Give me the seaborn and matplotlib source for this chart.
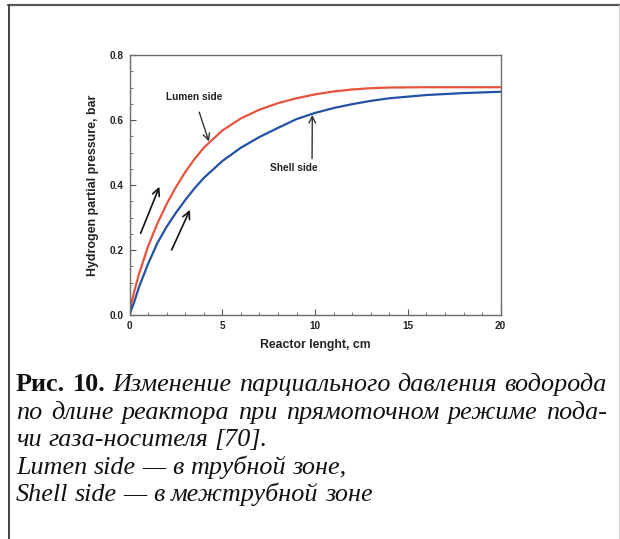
import matplotlib
matplotlib.use("Agg")
import matplotlib.pyplot as plt
from matplotlib.lines import Line2D
from matplotlib.ticker import MultipleLocator
import seaborn as sns
import pandas as pd

# Reactor position, cm
length_cm = [0.0, 0.1, 0.25, 0.5, 1.0, 1.5, 2.0, 2.5, 3.0, 3.5, 4.0, 5.0, 6.0,
             7.0, 8.0, 9.0, 10.0, 11.0, 12.0, 13.0, 14.0, 16.0, 18.0, 20.0]
# Hydrogen partial pressure, bar
lumen_side = [0.000, 0.036, 0.072, 0.125, 0.212, 0.282, 0.342, 0.394, 0.440, 0.480,
              0.515, 0.568, 0.605, 0.632, 0.652, 0.667, 0.679, 0.688, 0.694, 0.698,
              0.700, 0.701, 0.701, 0.701]
shell_side = [0.000, 0.018, 0.040, 0.085, 0.158, 0.222, 0.272, 0.315, 0.354, 0.390,
              0.422, 0.474, 0.515, 0.548, 0.576, 0.603, 0.622, 0.637, 0.649, 0.659,
              0.667, 0.677, 0.683, 0.687]
series_names = ["Lumen side", "Shell side"]
series_colors = ["#E9533E", "#2352A6"]

x_ticks = [0, 5, 10, 15, 20]
y_ticks = [0.0, 0.2, 0.4, 0.6, 0.8]

caption_head = "Рис. 10."
caption_lines = [
    "Изменение парциального давления водорода",
    "по длине реактора при прямоточном режиме пода-",
    "чи газа-носителя [70].",
    "Lumen side — в трубной зоне,",
    "Shell side — в межтрубной зоне",
]

df = pd.concat([
    pd.DataFrame({"x": length_cm, "p": lumen_side, "side": series_names[0]}),
    pd.DataFrame({"x": length_cm, "p": shell_side, "side": series_names[1]}),
])

sns.set_style("ticks")
plt.rcParams["font.family"] = ["Liberation Sans", "DejaVu Sans"]

W, H = 620, 539
fig = plt.figure(figsize=(W / 100, H / 100), dpi=100)
fig.patch.set_facecolor("white")

ax = fig.add_axes([129.5 / W, 1 - 315.3 / H, 371.2 / W, 260.3 / H])
sns.lineplot(data=df, x="x", y="p", hue="side", palette=series_colors,
             linewidth=1.6, legend=False, ax=ax, sort=False, estimator=None)

ax.set_xlim(0, 20)
ax.set_ylim(0, 0.8)
ax.set_xticks(x_ticks)
ax.set_yticks(y_ticks)
ax.set_xticklabels([str(t) for t in x_ticks])
ax.set_yticklabels([f"{t:.1f}" for t in y_ticks])
ax.xaxis.set_minor_locator(MultipleLocator(1))
ax.yaxis.set_minor_locator(MultipleLocator(0.05))
ax.tick_params(which="both", direction="in", colors="#555555", labelcolor="#222222",
               top=False, right=False)
ax.tick_params(which="major", length=4, width=0.8, labelsize=7.2, pad=4)
ax.tick_params(which="minor", length=2.5, width=0.6)
for lab in ax.get_xticklabels() + ax.get_yticklabels():
    lab.set_fontweight("bold")
for s in ax.spines.values():
    s.set_color("#6b6b6b")
    s.set_linewidth(1.0)
    s.set_visible(True)

ax.set_xlabel("Reactor lenght, cm", fontsize=8.8, fontweight="bold", color="#222222", labelpad=6)
ax.set_ylabel("Hydrogen partial pressure, bar", fontsize=8.9, fontweight="bold",
              color="#222222", labelpad=8)

arrow_kw = dict(arrowstyle="->", color="#333333", lw=1.0, mutation_scale=12)
ax.annotate("Lumen side", xy=(4.28, 0.534), xytext=(3.49, 0.670), ha="center", va="center",
            fontsize=7.3, fontweight="bold", color="#222222",
            arrowprops=dict(arrow_kw, shrinkA=5, shrinkB=0))
ax.annotate("Shell side", xy=(9.85, 0.616), xytext=(8.86, 0.452), ha="center", va="center",
            fontsize=7.3, fontweight="bold", color="#222222",
            arrowprops=dict(arrow_kw, shrinkA=1, shrinkB=0, relpos=(0.88, 1.0)))
for start, end in [((0.60, 0.252), (1.61, 0.395)), ((2.27, 0.201), (3.26, 0.324))]:
    ax.annotate("", xy=end, xytext=start,
                arrowprops=dict(arrowstyle="->", color="#111111", lw=1.2,
                                mutation_scale=13, shrinkA=0, shrinkB=0))

# outer frame
def px_line(x0, y0, x1, y1, **kw):
    fig.add_artist(Line2D([x0 / W, x1 / W], [1 - y0 / H, 1 - y1 / H],
                          transform=fig.transFigure, **kw))

px_line(8, 5, 620, 5, color="#555555", lw=1.6)
px_line(9, 5, 9, 539, color="#444444", lw=1.4)
px_line(618.5, 5, 618.5, 539, color="#d0d0d0", lw=0.8)

# caption, set as a justified paragraph
serif = ["Liberation Serif", "DejaVu Serif"]
cap_size = 18.8
left_px, right_px = 16, 607
y0, dy = 391, 27.6
renderer = fig.canvas.get_renderer()


def place_words(tokens, y_px, justify):
    """tokens: list of (text, fontweight, fontstyle)."""
    arts = []
    for txt, weight, style in tokens:
        a = fig.text(0, 1 - y_px / H, txt, fontsize=cap_size, fontweight=weight,
                     style=style, family=serif, color="#111111", va="baseline")
        arts.append(a)
    widths = [a.get_window_extent(renderer).width for a in arts]
    probe = fig.text(0, 0, "a a", fontsize=cap_size, style="italic", family=serif)
    sw = probe.get_window_extent(renderer).width
    probe.set_text("aa")
    sw -= probe.get_window_extent(renderer).width
    probe.remove()
    if justify and len(arts) > 1:
        gap = (right_px - left_px - sum(widths)) / (len(arts) - 1)
    else:
        gap = sw
    x = left_px
    for a, w in zip(arts, widths):
        a.set_x(x / W)
        x += w + gap


for i, line in enumerate(caption_lines):
    toks = [(w, "normal", "italic") for w in line.split(" ")]
    if i == 0:
        toks = [(w, "bold", "normal") for w in caption_head.split(" ")] + toks
    place_words(toks, y0 + i * dy, justify=i < 2)

fig.savefig("out.png", dpi=100, facecolor="white")
